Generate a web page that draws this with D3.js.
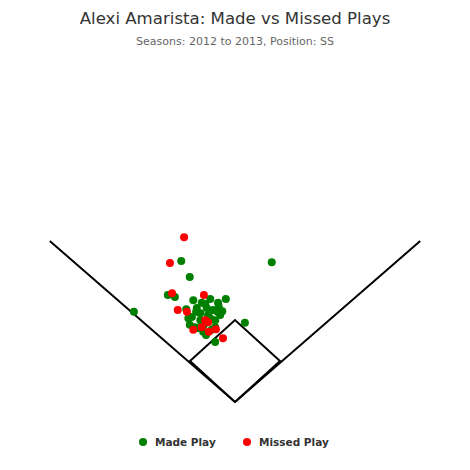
<!DOCTYPE html>
<meta charset="utf-8">
<script src="https://cdn.jsdelivr.net/npm/d3@7"></script>
<style>
    body { margin: 0; background: #fff; }
    text { font-family: "Lucida Grande", "DejaVu Sans", sans-serif; }
</style>
<svg></svg>
<script>
    // positions in feet from home plate: x to the right, y toward center field
    var madeX = [-76, 52, -64, -95, -85, -143, -13, 14, -28,
        -59, -47, -35, -24, -18, -21, -69, -54, -49, -40, -31, -61, -38, -28,
        -64, -57, -49, -28, -45, -33, -52, -42, -55, -35, -25, -44, -23, -66, -41];
    var madeY = [219, 217, 194, 166, 163, 140, 160, 123, 93,
        158, 154, 160, 154, 141, 135, 144, 146, 138, 146, 143, 132, 135, 127,
        120, 116, 127, 116, 109, 112, 115, 152, 140, 130, 140, 120, 148, 130, 104];
    var missedX = [-72, -92, -89, -44, -81, -68, -42, -38, -47, -59, -37, -27, -17];
    var missedY = [256, 216, 169, 166, 143, 140, 127, 124, 116, 112, 109, 113, 99];

    var basePath = 90 / Math.SQRT2;
    var fieldX = [-262, 0, 262];
    var fieldY = [250, 0, 250];
    var diamondX = [0, basePath, 0, -basePath, 0];
    var diamondY = [0, basePath, 2 * basePath, basePath, 0];

    var seriesNames = ['Made Play', 'Missed Play'];
    var seriesColors = ['green', 'red'];

    var width = 470, height = 470;
    var svg = d3.select('svg').attr('width', width).attr('height', height);

    var x = d3.scaleLinear().domain([0, 100]).range([235, 235 + 70.7]);
    var y = d3.scaleLinear().domain([0, 100]).range([402, 402 - 64.4]);

    svg.append('text')
        .attr('x', width / 2).attr('y', 24)
        .attr('text-anchor', 'middle')
        .attr('fill', '#333').style('font-size', '16.6px')
        .text('Alexi Amarista: Made vs Missed Plays');
    svg.append('text')
        .attr('x', width / 2).attr('y', 45)
        .attr('text-anchor', 'middle')
        .attr('fill', '#666').style('font-size', '11px')
        .text('Seasons: 2012 to 2013, Position: SS');

    var line = d3.line().x(d => x(d[0])).y(d => y(d[1]));
    svg.append('path')
        .attr('d', line(d3.zip(fieldX, fieldY)))
        .attr('fill', 'none').attr('stroke', '#000').attr('stroke-width', 2);
    svg.append('path')
        .attr('d', line(d3.zip(diamondX, diamondY)))
        .attr('fill', 'none').attr('stroke', '#000').attr('stroke-width', 2);

    var series = [d3.zip(madeX, madeY), d3.zip(missedX, missedY)];
    series.forEach((pts, i) => {
        svg.append('g').selectAll('circle').data(pts).enter().append('circle')
            .attr('cx', d => x(d[0]))
            .attr('cy', d => y(d[1]))
            .attr('r', 4)
            .attr('fill', seriesColors[i]);
    });

    var legend = svg.append('g').attr('transform', 'translate(0,442)');
    var legX = [143, 247];
    seriesNames.forEach((name, i) => {
        legend.append('circle').attr('cx', legX[i]).attr('cy', 0).attr('r', 4)
            .attr('fill', seriesColors[i]);
        legend.append('text').attr('x', legX[i] + 12).attr('y', 4)
            .attr('fill', '#333').style('font-size', '10.5px').style('font-weight', 'bold')
            .text(name);
    });
</script>
